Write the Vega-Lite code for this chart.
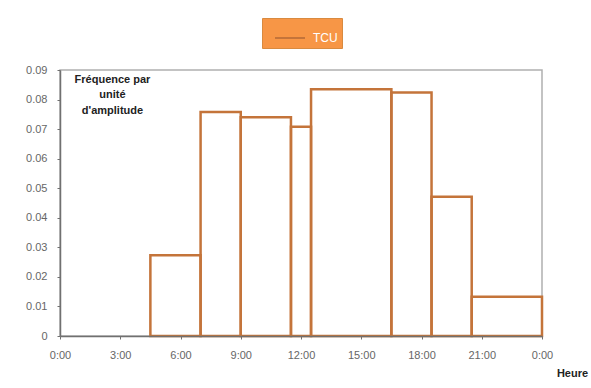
{
  "$schema": "https://vega.github.io/schema/vega-lite/v6.json",
  "width": 482,
  "height": 266,
  "autosize": "none",
  "padding": {"left": 60, "top": 70, "right": 49, "bottom": 52},
  "background": "white",
  "data": {
    "values": [
      {"debut": 4.5, "fin": 7, "frequence": 0.0273, "serie": "TCU"},
      {"debut": 7, "fin": 9, "frequence": 0.0758, "serie": "TCU"},
      {"debut": 9, "fin": 11.5, "frequence": 0.074, "serie": "TCU"},
      {"debut": 11.5, "fin": 12.5, "frequence": 0.0708, "serie": "TCU"},
      {"debut": 12.5, "fin": 16.5, "frequence": 0.0835, "serie": "TCU"},
      {"debut": 16.5, "fin": 18.5, "frequence": 0.0824, "serie": "TCU"},
      {"debut": 18.5, "fin": 20.5, "frequence": 0.0471, "serie": "TCU"},
      {"debut": 20.5, "fin": 24, "frequence": 0.0133, "serie": "TCU"}
    ]
  },
  "mark": {"type": "rect", "filled": false, "strokeWidth": 2.5},
  "encoding": {
    "x": {
      "field": "debut",
      "type": "quantitative",
      "scale": {"domain": [0, 24], "nice": false, "zero": false},
      "axis": {
        "values": [0, 3, 6, 9, 12, 15, 18, 21, 24],
        "labelExpr": "(datum.value % 24) + ':00'",
        "labelFlush": false,
        "grid": false,
        "zindex": 1,
        "domainColor": "#707070",
        "domainWidth": 1.5,
        "tickColor": "#707070",
        "tickSize": 3,
        "labelPadding": 10,
        "labelColor": "#666666",
        "labelFont": "Liberation Sans",
        "labelFontSize": 11,
        "title": "Heure",
        "titleFont": "Liberation Sans",
        "titleFontSize": 11,
        "titleFontWeight": "bold",
        "titleColor": "#222222",
        "titleAnchor": null,
        "titleAlign": "center",
        "titleBaseline": "middle",
        "titleX": 512,
        "titleY": 37
      }
    },
    "x2": {"field": "fin"},
    "y": {
      "field": "frequence",
      "type": "quantitative",
      "scale": {"domain": [0, 0.09], "nice": false},
      "axis": {
        "values": [0, 0.01, 0.02, 0.03, 0.04, 0.05, 0.06, 0.07, 0.08, 0.09],
        "format": ".2~f",
        "grid": false,
        "domainColor": "#707070",
        "domainWidth": 1.5,
        "tickColor": "#707070",
        "tickSize": 3,
        "labelPadding": 10,
        "labelColor": "#666666",
        "labelFont": "Liberation Sans",
        "labelFontSize": 11,
        "title": ["Fréquence par", "unité", "d'amplitude"],
        "titleFont": "Liberation Sans",
        "titleFontSize": 11,
        "titleFontWeight": "bold",
        "titleColor": "#222222",
        "titleAngle": 0,
        "titleAnchor": null,
        "titleAlign": "center",
        "titleBaseline": "top",
        "titleLineHeight": 15.5,
        "titleX": 52,
        "titleY": 3
      }
    },
    "y2": {"datum": 0},
    "color": {
      "field": "serie",
      "type": "nominal",
      "scale": {"range": ["#c4743a"]},
      "legend": {
        "title": null,
        "orient": "none",
        "legendX": 202,
        "legendY": -52,
        "fillColor": "#f79646",
        "strokeColor": "#d98a3f",
        "padding": 4,
        "symbolType": "stroke",
        "symbolSize": 900,
        "symbolStrokeWidth": 2,
        "symbolOffset": 8,
        "labelOffset": 7,
        "labelColor": "white",
        "labelFont": "Liberation Sans",
        "labelFontSize": 12
      }
    }
  },
  "config": {
    "view": {"stroke": "#b0b0b0", "strokeWidth": 1.5}
  }
}
